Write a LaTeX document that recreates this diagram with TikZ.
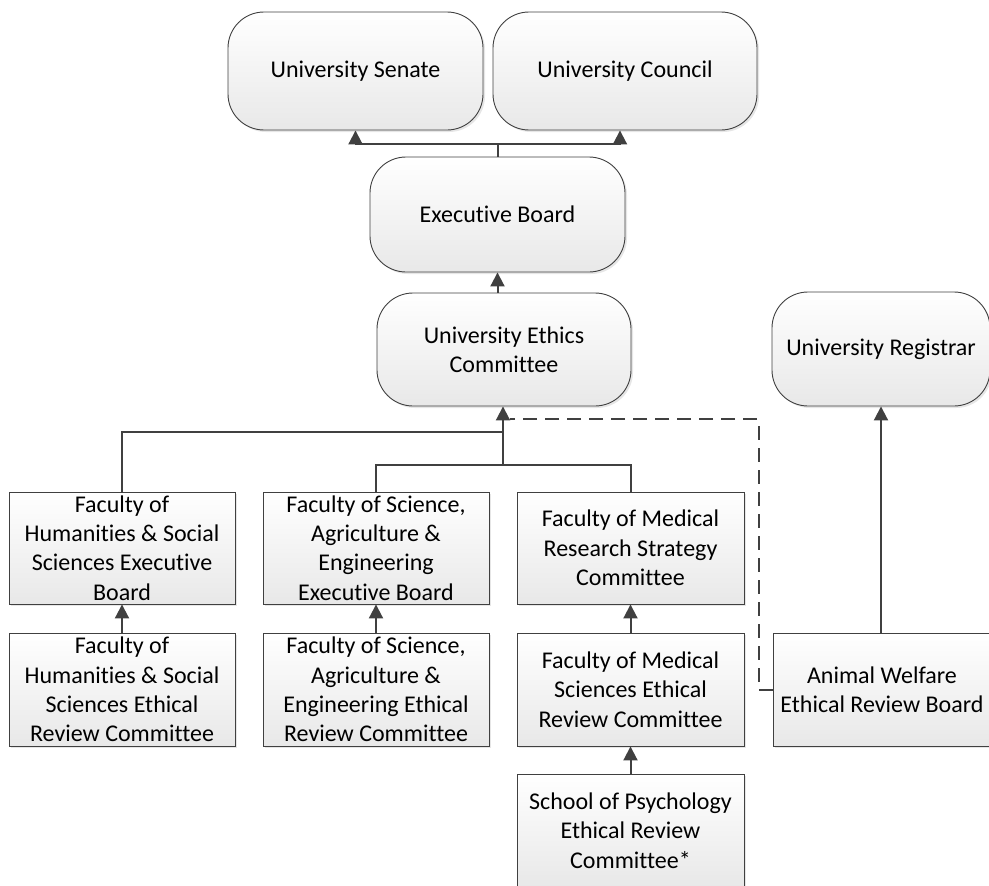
\documentclass[tikz,border=0pt]{standalone}
\usepackage{fontspec}
\setmainfont{Carlito}[Ligatures={NoCommon}]
\usetikzlibrary{arrows.meta,shadows}
\definecolor{edge}{HTML}{404040}
\tikzset{
  boxbase/.style={draw=edge, line width=0.9pt, top color=white, bottom color=black!9,
    align=center, inner sep=0pt, font=\fontsize{24}{29.3}\selectfont,
    drop shadow={shadow xshift=2pt, shadow yshift=-2pt, opacity=0.2}},
  roundbox/.style={boxbase, rounded corners=36pt},
  sqbox/.style={boxbase, minimum width=226pt, minimum height=112pt},
  conn/.style={draw=edge, line width=2pt},
  arr/.style={conn, -{Triangle[length=14pt,width=14pt]}},
}
\begin{document}
\begin{tikzpicture}[x=1pt,y=-1pt]
\useasboundingbox (0,0) rectangle (989,886);
\clip (0,0) rectangle (989,886);
\node[roundbox, minimum width=255pt, minimum height=118pt] (senate) at (355.5,71) {University Senate};
\node[roundbox, minimum width=264pt, minimum height=118pt] (council) at (625,71) {University Council};
\node[roundbox, minimum width=255pt, minimum height=115pt] (exec) at (497.5,214.5) {Executive Board};
\node[roundbox, minimum width=254pt, minimum height=113pt] (ethics) at (504,349.5) {University Ethics\\Committee};
\node[roundbox, minimum width=218pt, minimum height=114pt] (registrar) at (881,349) {University Registrar};
\node[sqbox] (hum1) at (122,548) {Faculty of\\Humanities \& Social\\Sciences Executive\\Board};
\node[sqbox, minimum height=113pt] (hum2) at (122,689.5) {Faculty of\\Humanities \& Social\\Sciences Ethical\\Review Committee};
\node[sqbox] (sci1) at (376,548) {Faculty of Science,\\Agriculture \&\\Engineering\\Executive Board};
\node[sqbox, minimum height=113pt] (sci2) at (376,689.5) {Faculty of Science,\\Agriculture \&\\Engineering Ethical\\Review Committee};
\node[sqbox, minimum width=227pt] (med1) at (630.5,548) {Faculty of Medical\\Research Strategy\\Committee};
\node[sqbox, minimum width=227pt, minimum height=113pt] (med2) at (630.5,689.5) {Faculty of Medical\\Sciences Ethical\\Review Committee};
\node[sqbox, minimum width=227pt, minimum height=113pt] (psy) at (630.5,830.5) {School of Psychology\\Ethical Review\\Committee*};
\node[sqbox, minimum width=218pt, minimum height=113pt] (animal) at (882,689.5) {Animal Welfare\\Ethical Review Board};
% top connectors
\draw[conn] (exec.north) -- ++(0,-13) coordinate (jt);
\draw[arr] (jt) -| (senate.south);
\draw[arr] (jt) -| ([xshift=-5pt]council.south);
\draw[arr] (exec.south |- ethics.north) -- (exec.south);
% lower tree
\coordinate (ja) at (503,432);
\coordinate (jb) at (503,465);
\draw[conn] (hum1.north) |- (ja);
\draw[conn] (sci1.north) |- (jb) -| (med1.north);
\draw[arr] (jb) -- (ethics.south -| jb);
\draw[draw=edge, line width=2pt, dash pattern=on 14pt off 8pt] (animal.west) -- ++(-14,0) |- ([xshift=6pt]ethics.south |- 0,419);
% vertical chains
\draw[arr] (hum2.north) -- (hum1.south);
\draw[arr] (sci2.north) -- (sci1.south);
\draw[arr] (med2.north) -- (med1.south);
\draw[arr] (psy.north) -- (med2.south);
\draw[arr] (animal.north -| registrar.south) -- (registrar.south);
\end{tikzpicture}
\end{document}
